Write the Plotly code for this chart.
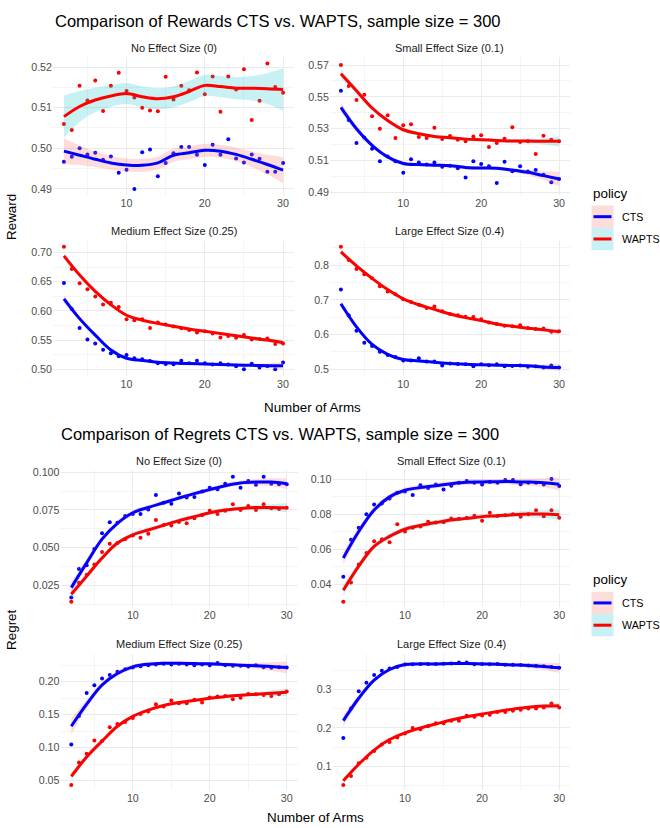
import plotly.graph_objects as go

# ---------------- data ----------------
ARMS = [2, 3, 4, 5, 6, 7, 8, 9, 10, 11, 12, 13, 14, 15, 16, 17, 18, 19, 20, 21, 22, 23, 24, 25, 26, 27, 28, 29, 30]
FIT_ARMS = [2, 4, 6, 8, 10, 12, 14, 16, 18, 20, 22, 24, 26, 28, 30]
POLICIES = ["CTS", "WAPTS"]

# Rewards - No Effect Size (0)
reward_none_cts = [0.4967, 0.4979, 0.5000, 0.4985, 0.4989, 0.4972, 0.4980, 0.4940, 0.4947, 0.4900, 0.4990, 0.4997, 0.4931, 0.4964, 0.4988, 0.5003, 0.5003, 0.4984, 0.4959, 0.5009, 0.4984, 0.5022, 0.4975, 0.4965, 0.4985, 0.4974, 0.4942, 0.4942, 0.4964]
reward_none_wapts = [0.5060, 0.5045, 0.5154, 0.5118, 0.5167, 0.5092, 0.5154, 0.5186, 0.5141, 0.5125, 0.5100, 0.5093, 0.5091, 0.5176, 0.5120, 0.5154, 0.5143, 0.5187, 0.5133, 0.5177, 0.5090, 0.5177, 0.5145, 0.5195, 0.5070, 0.5117, 0.5209, 0.5151, 0.5137]
reward_none_cts_fit = [0.4993, 0.4983, 0.4973, 0.4964, 0.4959, 0.4958, 0.4964, 0.4983, 0.4989, 0.4995, 0.4993, 0.4985, 0.4973, 0.4960, 0.4946]
reward_none_wapts_fit = [0.5078, 0.5103, 0.5119, 0.5129, 0.5135, 0.5127, 0.5122, 0.5127, 0.5140, 0.5155, 0.5152, 0.5148, 0.5148, 0.5147, 0.5145]
reward_none_cts_se = [0.0032, 0.0024, 0.0019, 0.0017, 0.0016, 0.0016, 0.0016, 0.0016, 0.0016, 0.0016, 0.0016, 0.0017, 0.0019, 0.0024, 0.0032]
reward_none_wapts_se = [0.0052, 0.0038, 0.0030, 0.0027, 0.0026, 0.0026, 0.0026, 0.0026, 0.0026, 0.0026, 0.0026, 0.0027, 0.0030, 0.0038, 0.0052]

# Rewards - Small Effect Size (0.1)
reward_small_cts = [0.5538, 0.5355, 0.5210, 0.5245, 0.5174, 0.5095, 0.5125, 0.5095, 0.5023, 0.5108, 0.5087, 0.5074, 0.5087, 0.5060, 0.5066, 0.5050, 0.4993, 0.5095, 0.5077, 0.5064, 0.4958, 0.5091, 0.5031, 0.5064, 0.5030, 0.5039, 0.5010, 0.4962, 0.4983]
reward_small_wapts = [0.5700, 0.5569, 0.5480, 0.5513, 0.5378, 0.5299, 0.5384, 0.5241, 0.5322, 0.5328, 0.5247, 0.5241, 0.5305, 0.5235, 0.5253, 0.5230, 0.5220, 0.5251, 0.5259, 0.5185, 0.5210, 0.5237, 0.5309, 0.5216, 0.5220, 0.5141, 0.5255, 0.5230, 0.5220]
reward_small_cts_fit = [0.5434, 0.5299, 0.5195, 0.5122, 0.5081, 0.5074, 0.5070, 0.5066, 0.5056, 0.5052, 0.5050, 0.5039, 0.5025, 0.5004, 0.4983]
reward_small_wapts_fit = [0.5646, 0.5538, 0.5430, 0.5351, 0.5293, 0.5268, 0.5251, 0.5243, 0.5234, 0.5230, 0.5226, 0.5222, 0.5222, 0.5220, 0.5220]
reward_small_cts_se = [0.0030, 0.0018, 0.0014, 0.0012, 0.0012, 0.0011, 0.0011, 0.0011, 0.0011, 0.0011, 0.0011, 0.0013, 0.0017, 0.0027, 0.0045]
reward_small_wapts_se = [0.0028, 0.0018, 0.0014, 0.0012, 0.0012, 0.0011, 0.0011, 0.0011, 0.0011, 0.0011, 0.0011, 0.0012, 0.0014, 0.0020, 0.0032]

# Rewards - Medium Effect Size (0.25)
reward_medium_cts = [0.6479, 0.6030, 0.5708, 0.5510, 0.5442, 0.5334, 0.5272, 0.5220, 0.5244, 0.5187, 0.5170, 0.5140, 0.5102, 0.5090, 0.5085, 0.5142, 0.5100, 0.5142, 0.5100, 0.5080, 0.5100, 0.5080, 0.5050, 0.5000, 0.5091, 0.5028, 0.5050, 0.5000, 0.5113]
reward_medium_wapts = [0.7102, 0.6717, 0.6473, 0.6370, 0.6246, 0.6110, 0.6140, 0.6065, 0.5856, 0.5839, 0.5856, 0.5708, 0.5799, 0.5765, 0.5731, 0.5700, 0.5670, 0.5630, 0.5652, 0.5610, 0.5544, 0.5570, 0.5540, 0.5584, 0.5510, 0.5516, 0.5527, 0.5431, 0.5442]
reward_medium_cts_fit = [0.6207, 0.5867, 0.5584, 0.5329, 0.5187, 0.5150, 0.5120, 0.5105, 0.5095, 0.5088, 0.5080, 0.5072, 0.5065, 0.5060, 0.5057]
reward_medium_wapts_fit = [0.6943, 0.6615, 0.6335, 0.6105, 0.5925, 0.5840, 0.5785, 0.5735, 0.5690, 0.5650, 0.5612, 0.5572, 0.5533, 0.5499, 0.5453]
reward_medium_cts_se = [0.0070, 0.0040, 0.0030, 0.0025, 0.0022, 0.0020, 0.0020, 0.0020, 0.0020, 0.0020, 0.0020, 0.0022, 0.0028, 0.0040, 0.0065]
reward_medium_wapts_se = [0.0060, 0.0035, 0.0028, 0.0024, 0.0022, 0.0020, 0.0020, 0.0020, 0.0020, 0.0020, 0.0020, 0.0022, 0.0026, 0.0035, 0.0055]

# Rewards - Large Effect Size (0.4)
reward_large_cts = [0.7295, 0.6552, 0.6105, 0.5762, 0.5667, 0.5505, 0.5410, 0.5350, 0.5250, 0.5250, 0.5314, 0.5220, 0.5219, 0.5105, 0.5160, 0.5150, 0.5140, 0.5086, 0.5143, 0.5110, 0.5143, 0.5080, 0.5090, 0.5105, 0.5070, 0.5080, 0.5050, 0.5105, 0.5048]
reward_large_wapts = [0.8533, 0.8150, 0.7886, 0.7740, 0.7620, 0.7390, 0.7238, 0.7160, 0.7020, 0.6940, 0.6860, 0.6762, 0.6810, 0.6670, 0.6590, 0.6552, 0.6510, 0.6505, 0.6438, 0.6343, 0.6305, 0.6250, 0.6240, 0.6267, 0.6190, 0.6160, 0.6171, 0.6076, 0.6095]
reward_large_cts_fit = [0.6886, 0.6219, 0.5714, 0.5429, 0.5276, 0.5238, 0.5200, 0.5162, 0.5143, 0.5124, 0.5114, 0.5105, 0.5095, 0.5065, 0.5050]
reward_large_wapts_fit = [0.8381, 0.7981, 0.7619, 0.7295, 0.7029, 0.6857, 0.6724, 0.6590, 0.6486, 0.6400, 0.6305, 0.6238, 0.6181, 0.6133, 0.6076]
reward_large_cts_se = [0.0100, 0.0060, 0.0045, 0.0038, 0.0033, 0.0030, 0.0030, 0.0030, 0.0030, 0.0030, 0.0030, 0.0034, 0.0045, 0.0070, 0.0110]
reward_large_wapts_se = [0.0080, 0.0050, 0.0040, 0.0035, 0.0030, 0.0030, 0.0030, 0.0030, 0.0030, 0.0030, 0.0030, 0.0032, 0.0040, 0.0055, 0.0080]

# Regrets - No Effect Size (0)
regret_none_cts = [0.0169, 0.0359, 0.0383, 0.0490, 0.0595, 0.0668, 0.0665, 0.0709, 0.0722, 0.0722, 0.0753, 0.0849, 0.0797, 0.0790, 0.0858, 0.0832, 0.0836, 0.0871, 0.0897, 0.0886, 0.0923, 0.0969, 0.0897, 0.0941, 0.0917, 0.0969, 0.0923, 0.0920, 0.0919]
regret_none_wapts = [0.0141, 0.0267, 0.0320, 0.0388, 0.0471, 0.0525, 0.0530, 0.0555, 0.0580, 0.0565, 0.0591, 0.0683, 0.0650, 0.0646, 0.0670, 0.0661, 0.0695, 0.0715, 0.0744, 0.0722, 0.0745, 0.0788, 0.0749, 0.0775, 0.0749, 0.0788, 0.0760, 0.0755, 0.0764]
regret_none_cts_fit = [0.0235, 0.0399, 0.0556, 0.0661, 0.0731, 0.0766, 0.0797, 0.0829, 0.0858, 0.0884, 0.0910, 0.0928, 0.0934, 0.0934, 0.0923]
regret_none_wapts_fit = [0.0191, 0.0311, 0.0431, 0.0530, 0.0585, 0.0617, 0.0648, 0.0679, 0.0705, 0.0731, 0.0749, 0.0759, 0.0766, 0.0766, 0.0764]
regret_none_cts_se = [0.0035, 0.0025, 0.0020, 0.0018, 0.0016, 0.0015, 0.0015, 0.0015, 0.0015, 0.0015, 0.0015, 0.0016, 0.0020, 0.0026, 0.0035]
regret_none_wapts_se = [0.0030, 0.0022, 0.0018, 0.0016, 0.0015, 0.0014, 0.0014, 0.0014, 0.0014, 0.0014, 0.0014, 0.0015, 0.0018, 0.0022, 0.0030]

# Regrets - Small Effect Size (0.1)
regret_small_cts = [0.0443, 0.0655, 0.0723, 0.0800, 0.0857, 0.0862, 0.0890, 0.0923, 0.0930, 0.0911, 0.0966, 0.0950, 0.0970, 0.0942, 0.0964, 0.0981, 0.0991, 0.0980, 0.0970, 0.0985, 0.0980, 0.0996, 0.0996, 0.0972, 0.0981, 0.0980, 0.0970, 0.1002, 0.0962]
regret_small_wapts = [0.0300, 0.0410, 0.0513, 0.0579, 0.0647, 0.0658, 0.0640, 0.0743, 0.0702, 0.0723, 0.0730, 0.0758, 0.0753, 0.0755, 0.0777, 0.0775, 0.0780, 0.0792, 0.0764, 0.0809, 0.0790, 0.0795, 0.0800, 0.0787, 0.0800, 0.0823, 0.0789, 0.0823, 0.0781]
regret_small_cts_fit = [0.0551, 0.0702, 0.0825, 0.0900, 0.0938, 0.0953, 0.0964, 0.0975, 0.0983, 0.0985, 0.0987, 0.0987, 0.0985, 0.0981, 0.0972]
regret_small_wapts_fit = [0.0366, 0.0504, 0.0617, 0.0674, 0.0715, 0.0736, 0.0753, 0.0768, 0.0777, 0.0787, 0.0792, 0.0798, 0.0802, 0.0802, 0.0798]
regret_small_cts_se = [0.0035, 0.0025, 0.0020, 0.0018, 0.0016, 0.0015, 0.0015, 0.0015, 0.0015, 0.0015, 0.0015, 0.0016, 0.0020, 0.0026, 0.0035]
regret_small_wapts_se = [0.0030, 0.0022, 0.0018, 0.0016, 0.0015, 0.0014, 0.0014, 0.0014, 0.0014, 0.0014, 0.0014, 0.0015, 0.0018, 0.0022, 0.0030]

# Regrets - Medium Effect Size (0.25)
regret_medium_cts = [0.1050, 0.1480, 0.1830, 0.1945, 0.2050, 0.2100, 0.2150, 0.2190, 0.2215, 0.2235, 0.2250, 0.2260, 0.2270, 0.2260, 0.2270, 0.2260, 0.2250, 0.2260, 0.2250, 0.2285, 0.2250, 0.2240, 0.2240, 0.2230, 0.2250, 0.2220, 0.2210, 0.2220, 0.2215]
regret_medium_wapts = [0.0435, 0.0775, 0.0910, 0.1110, 0.1100, 0.1310, 0.1360, 0.1390, 0.1450, 0.1510, 0.1550, 0.1660, 0.1625, 0.1715, 0.1675, 0.1675, 0.1725, 0.1685, 0.1760, 0.1775, 0.1785, 0.1735, 0.1755, 0.1815, 0.1810, 0.1800, 0.1785, 0.1810, 0.1850]
regret_medium_cts_fit = [0.1325, 0.1660, 0.1950, 0.2125, 0.2225, 0.2265, 0.2280, 0.2280, 0.2275, 0.2270, 0.2260, 0.2250, 0.2240, 0.2230, 0.2215]
regret_medium_wapts_fit = [0.0565, 0.0860, 0.1100, 0.1325, 0.1475, 0.1570, 0.1640, 0.1685, 0.1715, 0.1750, 0.1775, 0.1795, 0.1810, 0.1825, 0.1840]
regret_medium_cts_se = [0.0120, 0.0070, 0.0050, 0.0040, 0.0035, 0.0032, 0.0030, 0.0030, 0.0030, 0.0030, 0.0030, 0.0034, 0.0045, 0.0065, 0.0090]
regret_medium_wapts_se = [0.0060, 0.0040, 0.0032, 0.0028, 0.0025, 0.0024, 0.0024, 0.0024, 0.0024, 0.0024, 0.0024, 0.0026, 0.0032, 0.0042, 0.0060]

# Regrets - Large Effect Size (0.4)
regret_large_cts = [0.1738, 0.2500, 0.2948, 0.3172, 0.3369, 0.3481, 0.3541, 0.3580, 0.3644, 0.3650, 0.3660, 0.3660, 0.3655, 0.3665, 0.3670, 0.3695, 0.3695, 0.3650, 0.3660, 0.3650, 0.3655, 0.3640, 0.3640, 0.3630, 0.3620, 0.3610, 0.3600, 0.3580, 0.3558]
regret_large_wapts = [0.0511, 0.0750, 0.1077, 0.1223, 0.1395, 0.1567, 0.1630, 0.1750, 0.1850, 0.1996, 0.1960, 0.2039, 0.2116, 0.2120, 0.2180, 0.2185, 0.2313, 0.2290, 0.2322, 0.2340, 0.2408, 0.2410, 0.2442, 0.2470, 0.2500, 0.2500, 0.2530, 0.2631, 0.2528]
regret_large_cts_fit = [0.2185, 0.2768, 0.3240, 0.3515, 0.3644, 0.3661, 0.3661, 0.3670, 0.3670, 0.3661, 0.3652, 0.3635, 0.3618, 0.3592, 0.3558]
regret_large_wapts_fit = [0.0622, 0.1052, 0.1421, 0.1695, 0.1867, 0.1996, 0.2099, 0.2202, 0.2288, 0.2356, 0.2425, 0.2485, 0.2536, 0.2565, 0.2575]
regret_large_cts_se = [0.0150, 0.0090, 0.0065, 0.0050, 0.0045, 0.0040, 0.0040, 0.0040, 0.0040, 0.0040, 0.0040, 0.0045, 0.0060, 0.0090, 0.0130]
regret_large_wapts_se = [0.0080, 0.0050, 0.0040, 0.0035, 0.0032, 0.0030, 0.0030, 0.0030, 0.0030, 0.0030, 0.0030, 0.0032, 0.0040, 0.0050, 0.0080]

STRIPS = ["No Effect Size (0)", "Small Effect Size (0.1)", "Medium Effect Size (0.25)", "Large Effect Size (0.4)"]
X_TICKS = [10, 20, 30]
X_MINOR = [5, 15, 25]

# ---------------- styling / layout ----------------
W, H = 660, 828
FONT = "Liberation Sans, Arial, Helvetica, sans-serif"
LINE_COL = {"CTS": "#0000FF", "WAPTS": "#FF0000"}
FILL_COL = {"CTS": "rgba(248,118,109,0.25)", "WAPTS": "rgba(0,191,196,0.22)"}
GRID = "#EBEBEB"
GRID_MINOR = "#F4F4F4"


def fx(px):
    return px / W


def fy(py):
    return 1 - py / H


panels = [
    dict(cts=reward_none_cts, wapts=reward_none_wapts, cfit=reward_none_cts_fit, wfit=reward_none_wapts_fit,
         cse=reward_none_cts_se, wse=reward_none_wapts_se, strip=STRIPS[0],
         xd=(53, 294), yd=(53, 192), yr=(0.48846, 0.52237),
         yt=[0.49, 0.50, 0.51, 0.52], ym=[0.495, 0.505, 0.515], fmt=".2f"),
    dict(cts=reward_small_cts, wapts=reward_small_wapts, cfit=reward_small_cts_fit, wfit=reward_small_wapts_fit,
         cse=reward_small_cts_se, wse=reward_small_wapts_se, strip=STRIPS[1],
         xd=(330, 570), yd=(53, 192), yr=(0.48813, 0.5748),
         yt=[0.49, 0.51, 0.53, 0.55, 0.57], ym=[0.50, 0.52, 0.54, 0.56], fmt=".2f"),
    dict(cts=reward_medium_cts, wapts=reward_medium_wapts, cfit=reward_medium_cts_fit, wfit=reward_medium_wapts_fit,
         cse=reward_medium_cts_se, wse=reward_medium_wapts_se, strip=STRIPS[2],
         xd=(53, 294), yd=(238, 375), yr=(0.4876, 0.72039),
         yt=[0.50, 0.55, 0.60, 0.65, 0.70], ym=[0.525, 0.575, 0.625, 0.675], fmt=".2f"),
    dict(cts=reward_large_cts, wapts=reward_large_wapts, cfit=reward_large_cts_fit, wfit=reward_large_wapts_fit,
         cse=reward_large_cts_se, wse=reward_large_wapts_se, strip=STRIPS[3],
         xd=(330, 570), yd=(238, 375), yr=(0.47914, 0.87057),
         yt=[0.5, 0.6, 0.7, 0.8], ym=[0.55, 0.65, 0.75, 0.85], fmt=".1f"),
    dict(cts=regret_none_cts, wapts=regret_none_wapts, cfit=regret_none_cts_fit, wfit=regret_none_wapts_fit,
         cse=regret_none_cts_se, wse=regret_none_wapts_se, strip=STRIPS[0],
         xd=(60.5, 297.5), yd=(470, 608), yr=(0.01056, 0.10112),
         yt=[0.025, 0.050, 0.075, 0.100], ym=[0.0125, 0.0375, 0.0625, 0.0875], fmt=".3f"),
    dict(cts=regret_small_cts, wapts=regret_small_wapts, cfit=regret_small_cts_fit, wfit=regret_small_wapts_fit,
         cse=regret_small_cts_se, wse=regret_small_wapts_se, strip=STRIPS[1],
         xd=(332.5, 570), yd=(470, 608), yr=(0.02698, 0.10509),
         yt=[0.04, 0.06, 0.08, 0.10], ym=[0.03, 0.05, 0.07, 0.09], fmt=".2f"),
    dict(cts=regret_medium_cts, wapts=regret_medium_wapts, cfit=regret_medium_cts_fit, wfit=regret_medium_wapts_fit,
         cse=regret_medium_cts_se, wse=regret_medium_wapts_se, strip=STRIPS[2],
         xd=(60.5, 297.5), yd=(655, 793), yr=(0.03545, 0.24245),
         yt=[0.05, 0.10, 0.15, 0.20], ym=[0.075, 0.125, 0.175, 0.225], fmt=".2f"),
    dict(cts=regret_large_cts, wapts=regret_large_wapts, cfit=regret_large_cts_fit, wfit=regret_large_wapts_fit,
         cse=regret_large_cts_se, wse=regret_large_wapts_se, strip=STRIPS[3],
         xd=(332.5, 570), yd=(655, 793), yr=(0.03745, 0.39266),
         yt=[0.1, 0.2, 0.3], ym=[0.05, 0.15, 0.25, 0.35], fmt=".1f"),
]

fig = go.Figure()
layout = {}
annotations = []
shapes = []

for i, p in enumerate(panels, start=1):
    xa = "x" if i == 1 else f"x{i}"
    ya = "y" if i == 1 else f"y{i}"
    for pol, pts in (("CTS", p["cts"]), ("WAPTS", p["wapts"])):
        fig.add_trace(go.Scatter(x=ARMS, y=pts, mode="markers", xaxis=xa, yaxis=ya,
                                 marker=dict(color=LINE_COL[pol], size=4), showlegend=False,
                                 hoverinfo="skip"))
    for pol, fit, se in (("CTS", p["cfit"], p["cse"]), ("WAPTS", p["wfit"], p["wse"])):
        lo = [f - s for f, s in zip(fit, se)]
        hi = [f + s for f, s in zip(fit, se)]
        fig.add_trace(go.Scatter(x=FIT_ARMS, y=lo, mode="lines", xaxis=xa, yaxis=ya,
                                 line=dict(width=0, shape="spline"), showlegend=False, hoverinfo="skip"))
        fig.add_trace(go.Scatter(x=FIT_ARMS, y=hi, mode="lines", xaxis=xa, yaxis=ya, fill="tonexty",
                                 fillcolor=FILL_COL[pol], line=dict(width=0, shape="spline"),
                                 showlegend=False, hoverinfo="skip"))
        fig.add_trace(go.Scatter(x=FIT_ARMS, y=fit, mode="lines", xaxis=xa, yaxis=ya,
                                 line=dict(color=LINE_COL[pol], width=3, shape="spline"),
                                 showlegend=False, name=pol, hoverinfo="skip"))

    key = "" if i == 1 else str(i)
    layout["xaxis" + key] = dict(
        domain=[fx(p["xd"][0]), fx(p["xd"][1])], anchor=ya, range=[0.6, 31.4],
        tickvals=X_TICKS, ticks="", showline=False, zeroline=False,
        showgrid=True, gridcolor=GRID, gridwidth=1,
        minor=dict(tickvals=X_MINOR, showgrid=True, gridcolor=GRID_MINOR, gridwidth=0.8),
        tickfont=dict(family=FONT, size=10.7, color="#4D4D4D"), fixedrange=True)
    layout["yaxis" + key] = dict(
        domain=[fy(p["yd"][1]), fy(p["yd"][0])], anchor=xa, range=list(p["yr"]),
        tickvals=p["yt"], tickformat=p["fmt"], ticks="", showline=False, zeroline=False,
        showgrid=True, gridcolor=GRID, gridwidth=1,
        minor=dict(tickvals=p["ym"], showgrid=True, gridcolor=GRID_MINOR, gridwidth=0.8),
        tickfont=dict(family=FONT, size=10.7, color="#4D4D4D"), fixedrange=True)
    annotations.append(dict(text=p["strip"], x=fx((p["xd"][0] + p["xd"][1]) / 2), y=fy(p["yd"][0] - 10),
                            xref="paper", yref="paper", showarrow=False, xanchor="center", yanchor="middle",
                            font=dict(family=FONT, size=11, color="#1A1A1A")))

# titles
annotations.append(dict(text="Comparison of Rewards CTS vs. WAPTS, sample size = 300", x=fx(53), y=fy(16),
                        xref="paper", yref="paper", showarrow=False, xanchor="left", yanchor="middle",
                        font=dict(family=FONT, size=16.5, color="black")))
annotations.append(dict(text="Comparison of Regrets CTS vs. WAPTS, sample size = 300", x=fx(59), y=fy(433),
                        xref="paper", yref="paper", showarrow=False, xanchor="left", yanchor="middle",
                        font=dict(family=FONT, size=16.5, color="black")))
# axis titles
for ytxt, yc, xt in (("Number of Arms", 406, 312), ("Number of Arms", 820, 315)):
    annotations.append(dict(text=ytxt, x=fx(xt), y=fy(yc), xref="paper", yref="paper", showarrow=False,
                            xanchor="center", yanchor="middle", font=dict(family=FONT, size=13.4, color="black")))
for t, yc in (("Reward", 214), ("Regret", 631)):
    annotations.append(dict(text=t, x=fx(12), y=fy(yc), xref="paper", yref="paper", showarrow=False,
                            textangle=-90, xanchor="center", yanchor="middle",
                            font=dict(family=FONT, size=13.4, color="black")))

# legends (ggplot-style keys: ribbon fill behind line)
for top in (190, 580):
    annotations.append(dict(text="policy", x=fx(591), y=fy(top), xref="paper", yref="paper", showarrow=False,
                            xanchor="left", yanchor="middle", font=dict(family=FONT, size=13.4, color="black")))
    for k, pol in enumerate(POLICIES):
        y0 = top + 12.5 + k * 22.5
        y1 = y0 + 22.5
        shapes.append(dict(type="rect", xref="paper", yref="paper", x0=fx(591.5), x1=fx(613.5),
                           y0=fy(y1), y1=fy(y0), fillcolor=FILL_COL[pol], line=dict(width=0), layer="above"))
        shapes.append(dict(type="line", xref="paper", yref="paper", x0=fx(593.5), x1=fx(611.5),
                           y0=fy((y0 + y1) / 2), y1=fy((y0 + y1) / 2),
                           line=dict(color=LINE_COL[pol], width=3), layer="above"))
        annotations.append(dict(text=pol, x=fx(620), y=fy((y0 + y1) / 2), xref="paper", yref="paper",
                                showarrow=False, xanchor="left", yanchor="middle",
                                font=dict(family=FONT, size=10.7, color="black")))

fig.update_layout(width=W, height=H, margin=dict(l=0, r=0, t=0, b=0), paper_bgcolor="white",
                  plot_bgcolor="white", showlegend=False, annotations=annotations, shapes=shapes,
                  font=dict(family=FONT), **layout)

PAGE_FIX = ("document.documentElement.style.margin='0';document.documentElement.style.overflow='hidden';"
            "document.body.style.margin='0';document.body.style.padding='0';document.body.style.overflow='hidden';")
fig.write_html("out.html", post_script=PAGE_FIX, config={"displayModeBar": False})
